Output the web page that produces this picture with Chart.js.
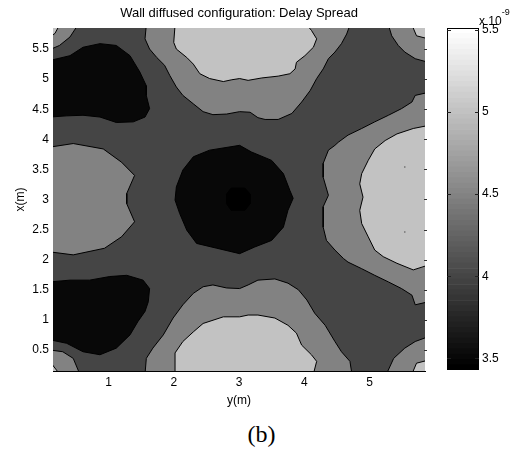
<!DOCTYPE html>
<html>
<head>
<meta charset="utf-8">
<script src="https://cdn.jsdelivr.net/npm/chart.js@4.4.1/dist/chart.umd.min.js"></script>
<style>
body{margin:0;background:#fff;}
#wrap{position:relative;width:517px;height:451px;overflow:hidden;background:#fff;}
#main{position:absolute;left:0;top:0;}
#cbar{position:absolute;left:430px;top:0;}
#caption{position:absolute;left:3px;top:421px;width:517px;text-align:center;font:24px "Liberation Serif","Times New Roman",serif;line-height:26px;}
</style>
</head>
<body>
<div id="wrap">
<canvas id="main" width="478" height="410"></canvas>
<canvas id="cbar" width="87" height="400"></canvas>
<div id="caption">(b)</div>
</div>
<script>
const FONT = "'Liberation Sans', Arial, sans-serif";

// axes (m): horizontal is y(m), vertical is x(m)
const yRange = [0.15, 5.85];
const xRange = [0.15, 5.85];
const yTicks = [1, 2, 3, 4, 5];
const xTicks = [0.5, 1, 1.5, 2, 2.5, 3, 3.5, 4, 4.5, 5, 5.5];

// colour scale, x 10^-9
const cbarRange = [3.43, 5.51];
const cbarTicks = [3.5, 4, 4.5, 5, 5.5];
const levels = [3.5, 4, 4.5, 5];

// contour regions, points are [y(m), x(m)]
// delay spread >= 4.5
const topMid = [[1.58,5.9],[1.56,5.67],[1.63,5.50],[1.74,5.36],[1.86,5.23],[1.94,5.06],[2.04,4.87],[2.14,4.73],[2.30,4.59],[2.45,4.46],[2.60,4.41],[2.81,4.42],[3.01,4.46],[3.17,4.45],[3.29,4.36],[3.40,4.33],[3.60,4.33],[3.81,4.43],[3.96,4.62],[4.09,4.81],[4.19,5.01],[4.29,5.17],[4.37,5.34],[4.47,5.45],[4.57,5.59],[4.65,5.75],[4.70,5.9]];
const trMid = [[5.29,5.9],[5.34,5.72],[5.44,5.56],[5.54,5.45],[5.70,5.34],[5.9,5.28],[5.9,5.9]];
const tlMid = [[0.53,5.9],[0.41,5.70],[0.25,5.56],[0.1,5.49],[0.1,5.9]];
const leftMid = [[0.1,3.87],[0.46,3.93],[0.92,3.84],[1.20,3.62],[1.40,3.40],[1.28,3.10],[1.28,2.93],[1.40,2.63],[1.20,2.38],[0.94,2.19],[0.46,2.08],[0.1,2.13]];
const rightMid = [[5.9,4.78],[5.70,4.73],[5.65,4.62],[5.49,4.51],[5.29,4.40],[5.08,4.29],[4.88,4.18],[4.67,4.07],[4.52,3.95],[4.47,3.90],[4.37,3.82],[4.29,3.60],[4.29,3.37],[4.37,3.07],[4.29,2.88],[4.29,2.54],[4.34,2.32],[4.47,2.16],[4.60,2.02],[4.67,1.96],[4.88,1.85],[5.08,1.74],[5.29,1.63],[5.49,1.52],[5.65,1.41],[5.70,1.25],[5.9,1.30]];
const bottomMid = [[1.56,0.1],[1.58,0.36],[1.68,0.53],[1.84,0.75],[1.99,1.03],[2.14,1.25],[2.30,1.44],[2.45,1.55],[2.60,1.58],[2.81,1.53],[3.01,1.52],[3.14,1.58],[3.29,1.66],[3.55,1.68],[3.75,1.61],[3.91,1.50],[4.04,1.33],[4.16,1.11],[4.32,0.91],[4.47,0.64],[4.57,0.47],[4.70,0.31],[4.73,0.1]];
const brMid = [[5.26,0.1],[5.37,0.36],[5.54,0.53],[5.70,0.64],[5.9,0.72],[5.9,0.1]];
const blMid = [[0.1,0.5],[0.30,0.47],[0.46,0.36],[0.56,0.1],[0.1,0.1]];

// delay spread >= 5
const topLight = [[2.02,5.9],[2.00,5.61],[2.04,5.50],[2.20,5.36],[2.30,5.25],[2.40,5.09],[2.55,5.01],[2.76,4.96],[2.89,4.99],[3.01,5.01],[3.14,4.98],[3.35,5.02],[3.60,5.05],[3.78,5.09],[3.86,5.17],[3.88,5.28],[4.01,5.39],[4.14,5.53],[4.19,5.67],[4.11,5.81],[4.04,5.9]];
const trLight = [[5.65,5.9],[5.72,5.72],[5.9,5.67],[5.9,5.9]];
const tlLight = [[0.25,5.9],[0.18,5.76],[0.1,5.70],[0.1,5.9]];
const rightLight = [[5.9,4.23],[5.67,4.18],[5.42,4.09],[5.24,3.98],[5.08,3.84],[4.98,3.65],[4.88,3.43],[4.85,3.26],[4.90,3.04],[4.85,2.82],[4.88,2.60],[4.98,2.38],[5.08,2.16],[5.21,2.05],[5.42,1.94],[5.67,1.83],[5.9,1.91]];
const bottomLight = [[2.02,0.1],[2.02,0.45],[2.14,0.64],[2.30,0.80],[2.45,0.94],[2.76,1.05],[3.01,1.05],[3.14,1.08],[3.29,1.08],[3.55,1.03],[3.75,0.91],[3.88,0.78],[3.96,0.58],[4.11,0.42],[4.19,0.31],[4.14,0.1]];
const brLight = [[5.65,0.1],[5.72,0.28],[5.9,0.33],[5.9,0.1]];
const blLight = [[0.1,0.31],[0.25,0.1],[0.1,0.1]];

// delay spread < 4
const tlBlack = [[0.1,5.31],[0.41,5.39],[0.61,5.53],[0.87,5.59],[1.12,5.56],[1.33,5.39],[1.48,5.12],[1.58,4.89],[1.58,4.73],[1.63,4.51],[1.56,4.37],[1.38,4.29],[1.12,4.28],[0.87,4.37],[0.61,4.40],[0.36,4.39],[0.1,4.37]];
const blBlack = [[0.1,1.63],[0.41,1.66],[0.71,1.66],[1.02,1.72],[1.28,1.74],[1.53,1.66],[1.63,1.52],[1.61,1.30],[1.56,1.14],[1.45,0.97],[1.33,0.75],[1.12,0.53],[0.87,0.42],[0.61,0.47],[0.36,0.61],[0.1,0.67]];
const centerBlack = [[3.01,3.90],[3.19,3.79],[3.50,3.65],[3.68,3.43],[3.78,3.15],[3.83,3.02],[3.75,2.82],[3.68,2.54],[3.50,2.32],[3.24,2.21],[3.01,2.10],[2.66,2.19],[2.35,2.27],[2.20,2.49],[2.09,2.77],[2.02,2.99],[2.04,3.21],[2.14,3.49],[2.30,3.71],[2.55,3.82],[3.01,3.90]];

// delay spread < 3.5
const centerCore = [[2.88,3.19],[3.09,3.19],[3.17,3.09],[3.17,2.93],[3.09,2.82],[2.88,2.82],[2.81,2.93],[2.81,3.09],[2.88,3.19]];

// tiny islands inside the right light region
const dots = [[5.54,3.54],[5.54,2.46]];

function gray(v) {
    let k = Math.floor((v - cbarRange[0]) / (cbarRange[1] - cbarRange[0]) * 64);
    k = Math.max(0, Math.min(63, k));
    const c = Math.round(k / 63 * 255);
    return `rgb(${c},${c},${c})`;
}

function toXY(pts) {
    return pts.map(p => ({x: p[0], y: p[1]}));
}

function region(pts, color, order) {
    return {
        data: toXY(pts),
        fill: 'shape',
        backgroundColor: color,
        borderColor: '#000',
        borderWidth: 1,
        pointRadius: 0,
        tension: 0,
        order: order
    };
}

const datasets = [];
[topMid, trMid, tlMid, leftMid, rightMid, bottomMid, brMid, blMid].forEach(r => datasets.push(region(r, gray(levels[2]), 4)));
[topLight, trLight, tlLight, rightLight, bottomLight, brLight, blLight].forEach(r => datasets.push(region(r, gray(levels[3]), 3)));
[tlBlack, blBlack, centerBlack].forEach(r => datasets.push(region(r, gray(levels[0]), 2)));
datasets.push(region(centerCore, gray(cbarRange[0]), 1));
datasets.push({
    data: toXY(dots),
    showLine: false,
    fill: false,
    pointStyle: 'rect',
    pointRadius: 1,
    pointBackgroundColor: '#6e6e6e',
    pointBorderWidth: 0,
    order: 0
});

const plotBackground = {
    id: 'plotBackground',
    beforeDatasetsDraw(chart) {
        const a = chart.chartArea;
        const ctx = chart.ctx;
        ctx.save();
        ctx.fillStyle = gray(levels[1]);
        ctx.fillRect(a.left, a.top, a.right - a.left, a.bottom - a.top);
        ctx.restore();
    }
};

const rightTicks = {
    id: 'rightTicks',
    afterDatasetsDraw(chart) {
        const a = chart.chartArea;
        const ctx = chart.ctx;
        ctx.save();
        ctx.strokeStyle = '#333';
        ctx.lineWidth = 1;
        xTicks.forEach(v => {
            const y = Math.round(chart.scales.y.getPixelForValue(v)) + 0.5;
            ctx.beginPath();
            ctx.moveTo(a.right - 1, y);
            ctx.lineTo(a.right + 2, y);
            ctx.stroke();
        });
        ctx.restore();
    }
};

const tickFont = {family: FONT, size: 12};

new Chart(document.getElementById('main'), {
    type: 'line',
    data: {datasets: datasets},
    options: {
        responsive: false,
        animation: false,
        events: [],
        layout: {padding: {left: 0, right: 53, top: 0, bottom: 0}},
        plugins: {
            legend: {display: false},
            tooltip: {enabled: false},
            filler: {drawTime: 'beforeDatasetDraw'},
            title: {
                display: true,
                fullSize: false,
                text: 'Wall diffused configuration: Delay Spread',
                color: '#000',
                font: {family: FONT, size: 13, weight: 'normal'},
                padding: {top: 6, bottom: 6.4}
            }
        },
        scales: {
            x: {
                type: 'linear',
                min: yRange[0],
                max: yRange[1],
                z: 1,
                afterBuildTicks: s => { s.ticks = yTicks.map(v => ({value: v})); },
                afterFit: s => { s.height = 39; },
                grid: {display: false, drawTicks: false},
                border: {display: true, color: '#000', width: 1},
                ticks: {padding: 4, color: '#000', font: tickFont, callback: v => String(v)},
                title: {display: true, text: 'y(m)', color: '#000', font: tickFont, padding: {top: 0, bottom: 2}}
            },
            y: {
                type: 'linear',
                min: xRange[0],
                max: xRange[1],
                z: 1,
                afterBuildTicks: s => { s.ticks = xTicks.map(v => ({value: v})); },
                afterFit: s => { s.width = 53; },
                grid: {display: false, drawTicks: false},
                border: {display: true, color: '#000', width: 1},
                ticks: {padding: 4, color: '#000', font: tickFont, callback: v => String(v)},
                title: {display: true, text: 'x(m)', color: '#000', font: tickFont, padding: {top: 13, bottom: 0}}
            }
        }
    },
    plugins: [plotBackground, rightTicks]
});

// colour bar: 64 grey bands of the colormap
const bands = [];
for (let k = 0; k < 64; k++) {
    const step = (cbarRange[1] - cbarRange[0]) / 64;
    const c = Math.round(k / 63 * 255);
    bands.push({
        data: [[cbarRange[0] + k * step, cbarRange[0] + (k + 1) * step]],
        backgroundColor: `rgb(${c},${c},${c})`,
        borderWidth: 0,
        grouped: false,
        barPercentage: 1,
        categoryPercentage: 1
    });
}

const cbarFrame = {
    id: 'cbarFrame',
    afterDatasetsDraw(chart) {
        const a = chart.chartArea;
        const ctx = chart.ctx;
        ctx.save();
        ctx.strokeStyle = '#000';
        ctx.lineWidth = 1;
        ctx.strokeRect(a.left + 0.5, a.top + 0.5, a.right - a.left - 1, a.bottom - a.top - 1);
        ctx.strokeStyle = '#222';
        cbarTicks.forEach(v => {
            const y = Math.round(chart.scales.y.getPixelForValue(v)) + 0.5;
            ctx.beginPath();
            ctx.moveTo(a.left, y);
            ctx.lineTo(a.left + 4, y);
            ctx.moveTo(a.right - 4, y);
            ctx.lineTo(a.right, y);
            ctx.stroke();
        });
        ctx.fillStyle = '#000';
        ctx.textBaseline = 'alphabetic';
        ctx.font = "12px " + FONT;
        ctx.fillText('x 10', a.right, 25);
        const w = ctx.measureText('x 10').width;
        ctx.font = "9px " + FONT;
        ctx.fillText('-9', a.right + w, 15);
        ctx.restore();
    }
};

new Chart(document.getElementById('cbar'), {
    type: 'bar',
    data: {labels: [''], datasets: bands},
    options: {
        responsive: false,
        animation: false,
        events: [],
        layout: {padding: {left: 17, right: 0, top: 28, bottom: 30}},
        plugins: {legend: {display: false}, tooltip: {enabled: false}},
        scales: {
            x: {display: false},
            y: {
                position: 'right',
                min: cbarRange[0],
                max: cbarRange[1],
                afterBuildTicks: s => { s.ticks = cbarTicks.map(v => ({value: v})); },
                afterFit: s => { s.width = 38; },
                grid: {display: false, drawTicks: false},
                border: {display: false},
                ticks: {padding: 3, color: '#000', font: tickFont, callback: v => String(v)}
            }
        }
    },
    plugins: [cbarFrame]
});
</script>
</body>
</html>
